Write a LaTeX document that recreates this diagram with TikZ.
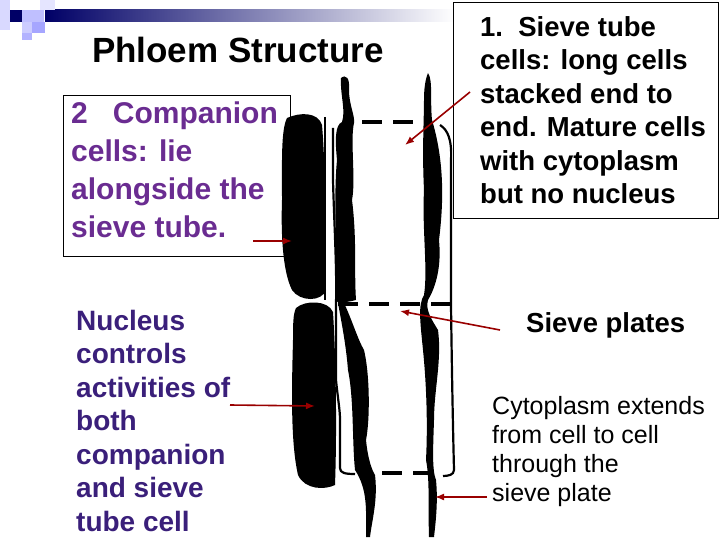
\documentclass[tikz,border=0pt]{standalone}
\usepackage{fontspec}
\usetikzlibrary{arrows.meta}
\setmainfont{Liberation Sans}
\definecolor{purp}{HTML}{6A2C91}
\definecolor{navyp}{HTML}{3A1F7A}
\begin{document}
\begin{tikzpicture}[x=1pt,y=-1pt,
  arr/.style={draw=red!60!black,line width=1.6pt,-{Latex[length=9pt,width=7pt]}},
  txt/.style={align=left,anchor=north west,inner sep=0pt,font=\bfseries},
  blk/.style={fill=black,draw=none},
  thin/.style={draw=black,line width=2.2pt,line join=round},
  dsh/.style={draw=black,line width=4pt,dash pattern=on 20pt off 11pt}]
\useasboundingbox (0,0) rectangle (720,540);
% decoration
\shade[left color=blue!40!black,right color=white] (45,10) rectangle (455,22);
\fill[blue!40!black] (10,10) rectangle (22,22);
\fill[blue!15] (0,0) rectangle (10,30);
\fill[blue!25] (22,10) rectangle (44,22);
\fill[blue!20] (22,22) rectangle (32,33);
\fill[blue!35] (32,22) rectangle (45,33);
\fill[blue!30] (22,33) rectangle (32,40);
\fill[blue!10] (40,0) rectangle (55,10);
% titles
\node[font=\bfseries\fontsize{35}{38}\selectfont] (title) at (238,50) {Phloem Structure};
\node[draw=black,line width=0.6pt,minimum width=265,minimum height=216,anchor=north west] (b1) at (453,2) {};
\node[txt,font=\bfseries\fontsize{27.5}{33.5}\selectfont] (t1) at (480,16) {1.\ \ Sieve tube\\cells: long cells\\stacked end to\\end. Mature cells\\with cytoplasm\\but no nucleus};
\node[draw=black,line width=0.6pt,minimum width=227,minimum height=161,anchor=north west] (b2) at (63,95) {};
\node[txt,text=purp,font=\bfseries\fontsize{30}{38}\selectfont] (t2) at (71,102) {2\ \ \ Companion\\cells: lie\\alongside the\\sieve tube.};
\node[txt,text=navyp,font=\bfseries\fontsize{28}{33.5}\selectfont] (t3) at (76,310) {Nucleus\\controls\\activities of\\both\\companion\\and sieve\\tube cell};
\node[txt,font=\bfseries\fontsize{27.5}{30}\selectfont] (t4) at (526,312) {Sieve plates};
\node[txt,font=\fontsize{25}{29}\selectfont] (t5) at (492,396) {Cytoplasm extends\\from cell to cell\\through the\\sieve plate};
% companion cells
\fill[blk] (287,118) .. controls (300,112) and (318,112) .. (322,125) .. controls (326,170) and (325,240) .. (326,290) .. controls (322,302) and (300,302) .. (292,290) .. controls (282,270) and (281,230) .. (282,200) .. controls (282,160) and (281,130) .. (287,118) -- cycle;
\fill[blk] (296,308) .. controls (305,300) and (328,300) .. (333,312) .. controls (336,360) and (337,430) .. (335,485) .. controls (325,490) and (305,490) .. (298,475) .. controls (290,440) and (292,380) .. (293,340) .. controls (293,325) and (293,314) .. (296,308) -- cycle;
% left wall
\fill[blk] (341,78) .. controls (346,74) and (350,78) .. (349,90) .. controls (349,105) and (355,115) .. (354,123) .. controls (350,140) and (356,180) .. (352,200) .. controls (357,240) and (354,270) .. (356,300) .. controls (345,303) and (336,303) .. (335,300) .. controls (338,260) and (333,200) .. (337,160) .. controls (335,140) and (335,125) .. (342,122) .. controls (346,110) and (340,95) .. (341,78) -- cycle;
\fill[blk] (344,303) .. controls (352,320) and (358,340) .. (364,350) .. controls (370,375) and (370,420) .. (366,440) .. controls (368,460) and (372,470) .. (375,475) .. controls (378,500) and (372,520) .. (370,537) -- (366,537) .. controls (366,510) and (368,490) .. (355,470) .. controls (352,440) and (354,400) .. (348,370) .. controls (346,345) and (342,325) .. (338,303) -- cycle;
% right wall
\fill[blk] (428,73) .. controls (433,80) and (430,100) .. (432,120) .. controls (444,160) and (444,200) .. (439,240) .. controls (442,270) and (434,290) .. (428,300) .. controls (425,310) and (432,320) .. (438,330) .. controls (442,360) and (434,390) .. (434,420) .. controls (433,450) and (432,470) .. (436,480) .. controls (438,500) and (436,520) .. (434,537) -- (429,537) .. controls (428,510) and (430,480) .. (426,460) .. controls (428,420) and (426,380) .. (423,350) .. controls (420,320) and (418,305) .. (424,295) .. controls (428,270) and (422,230) .. (424,190) .. controls (422,150) and (424,120) .. (424,100) .. controls (424,90) and (425,80) .. (428,73) -- cycle;
% thin outlines
\draw[thin] (325,117) -- (325,300);
\draw[thin] (333,128) -- (333,180) .. controls (334,220) and (337,270) .. (336,303) -- (336,380) .. controls (338,400) and (340,410) .. (340,420) -- (340,468) .. controls (340,473) and (345,474) .. (355,474);
\draw[thin] (440,125) .. controls (448,130) and (452,140) .. (451,160) -- (451,305) .. controls (452,380) and (453,430) .. (454,470) .. controls (454,475) and (448,476) .. (443,476);
% sieve plates
\draw[dsh] (362,122) -- (413,122);
\draw[dsh] (338,304) -- (452,304);
\draw[dsh] (382,473) -- (435,473);
% arrows
\coordinate (a1s) at (470,92); \coordinate (a1e) at (405,145);
\draw[arr] (a1s) -- (a1e);
\coordinate (a2s) at (253,241); \coordinate (a2e) at (292,241);
\draw[arr] (a2s) -- (a2e);
\coordinate (a3s) at (230,405); \coordinate (a3e) at (315,406);
\draw[arr] (a3s) -- (a3e);
\coordinate (a4s) at (500,330); \coordinate (a4e) at (400,311);
\draw[arr] (a4s) -- (a4e);
\coordinate (a5s) at (487,497); \coordinate (a5e) at (435,497);
\draw[arr] (a5s) -- (a5e);
\end{tikzpicture}
\end{document}
